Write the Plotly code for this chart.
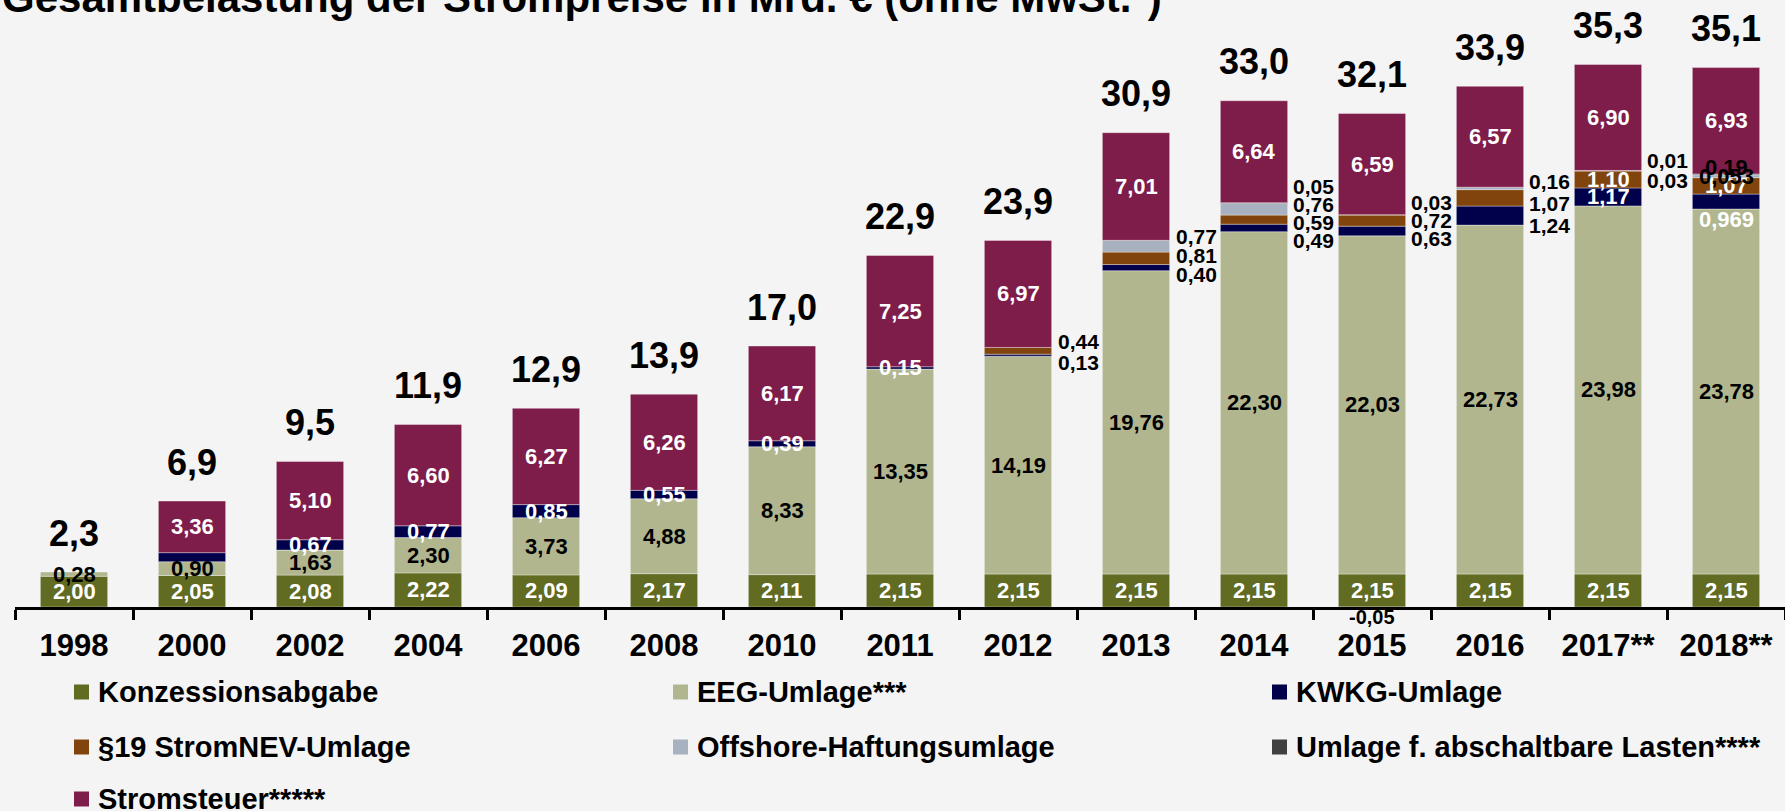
import plotly.graph_objects as go

# ---------------- data ----------------
years = ["1998", "2000", "2002", "2004", "2006", "2008", "2010", "2011", "2012",
         "2013", "2014", "2015", "2016", "2017**", "2018**"]
konz = [2.00, 2.05, 2.08, 2.22, 2.09, 2.17, 2.11, 2.15, 2.15, 2.15, 2.15, 2.15, 2.15, 2.15, 2.15]
eeg = [0.28, 0.90, 1.63, 2.30, 3.73, 4.88, 8.33, 13.35, 14.19, 19.76, 22.30, 22.03, 22.73, 23.98, 23.78]
kwkg = [None, 0.59, 0.67, 0.77, 0.85, 0.55, 0.39, 0.15, 0.13, 0.40, 0.49, 0.63, 1.24, 1.17, 0.969]
p19 = [None, None, None, None, None, None, None, None, 0.44, 0.81, 0.59, 0.72, 1.07, 1.10, 1.07]
offshore = [None, None, None, None, None, None, None, None, None, 0.77, 0.76, -0.05, 0.16, 0.03, 0.19]
abschalt = [None, None, None, None, None, None, None, None, None, None, 0.05, 0.03, None, 0.01, 0.053]
steuer = [None, 3.36, 5.10, 6.60, 6.27, 6.26, 6.17, 7.25, 6.97, 7.01, 6.64, 6.59, 6.57, 6.90, 6.93]
totals = ["2,3", "6,9", "9,5", "11,9", "12,9", "13,9", "17,0", "22,9", "23,9",
          "30,9", "33,0", "32,1", "33,9", "35,3", "35,1"]

names = {
    "konz": "Konzessionsabgabe",
    "eeg": "EEG-Umlage***",
    "kwkg": "KWKG-Umlage",
    "p19": "§19 StromNEV-Umlage",
    "off": "Offshore-Haftungsumlage",
    "abs": "Umlage f. abschaltbare Lasten****",
    "steuer": "Stromsteuer*****",
}
values = {"konz": konz, "eeg": eeg, "kwkg": kwkg, "p19": p19, "off": offshore,
          "abs": abschalt, "steuer": steuer}
colors = {"konz": "#626B22", "eeg": "#B1B68F", "kwkg": "#00004B", "p19": "#80440C",
          "off": "#A8B1BF", "abs": "#404040", "steuer": "#7E1C4A"}
order = ["konz", "eeg", "kwkg", "p19", "off", "abs", "steuer"]
title = "Gesamtbelastung der Strompreise in Mrd. € (ohne MwSt.*)"

# ---------------- geometry ----------------
W, H = 1785, 811
L, T, B = 15, 0, 204
PW = W - L
PH = H - T - B
PXU = 15.35
YMAX = PH / PXU
BARW = 0.57
FONT = "Arial, 'Liberation Sans', sans-serif"
BG = "#F4F4F4"


def px_x(px):
    return (px - L) / PW


def px_y(py):
    return (T + PH - py) / PH


def fmt(v):
    s = f"{v:.3f}"
    if s.endswith("0"):
        s = f"{v:.2f}"
    return s.replace(".", ",")


n = len(years)
cum = [0.0] * n
bottoms = {}
for k in order:
    b = []
    for i, v in enumerate(values[k]):
        v = v or 0
        if v >= 0:
            b.append(cum[i])
            cum[i] += v
        else:
            b.append(None)
    bottoms[k] = b


def mid(k, i):
    return bottoms[k][i] + values[k][i] / 2


fig = go.Figure()
for k in order:
    fig.add_trace(go.Bar(
        x=years, y=values[k], name=names[k], width=BARW,
        marker=dict(color=colors[k], line=dict(width=1, color="rgba(255,255,255,0.35)")),
        hoverinfo="skip", showlegend=False,
    ))

ann = []


def lab(i, y, text, color, size=22, xanchor="center", xshift=0, yshift=0):
    ann.append(dict(x=i, y=y, xref="x", yref="y", text=text, showarrow=False,
                    font=dict(family=FONT, size=size, color=color, weight="bold"),
                    xanchor=xanchor, yanchor="middle", xshift=xshift, yshift=yshift))


inside = [
    ("konz", range(15), "white", 0),
    ("eeg", range(15), "black", 0),
    ("kwkg", [2, 3, 4, 5, 6, 7, 13], "white", 0),
    ("kwkg", [14], "white", -18),
    ("p19", [13, 14], "white", 0),
    ("off", [14], "black", 9),
    ("abs", [14], "black", -2),
    ("steuer", range(1, 15), "white", 0),
]
for k, idxs, col, ys in inside:
    for i in idxs:
        v = values[k][i]
        if v is None:
            continue
        lab(i, mid(k, i), fmt(v), col, yshift=ys)

# labels written beside the bars for the thin segments
outside = [
    (8, ["p19", "kwkg"], 8, "right", 21, 0),
    (9, ["off", "p19", "kwkg"], 9, "right", 19, 0),
    (10, ["abs", "off", "p19", "kwkg"], 11, "left", 18, 4),
    (11, ["abs", "p19", "kwkg"], 12, "left", 18, 5),
    (12, ["off", "p19", "kwkg"], 13, "left", 22, 3),
    (13, ["abs", "off"], 14, "left", 20, 0),
]
half_px = BARW * PW / n / 2
for i, keys, at, side, sp, off in outside:
    lo = min(bottoms[k][i] for k in keys)
    hi = max(bottoms[k][i] + values[k][i] for k in keys)
    c = (lo + hi) / 2
    m = len(keys)
    for j, k in enumerate(keys):
        ys = ((m - 1) / 2 - j) * sp + off
        if side == "right":
            lab(at, c, fmt(values[k][i]), "black", size=21, xanchor="left",
                xshift=half_px + 4, yshift=ys)
        else:
            lab(at, c, fmt(values[k][i]), "black", size=21, xanchor="right",
                xshift=-half_px - 2, yshift=ys)

# negative values below the axis
for i, v in enumerate(offshore):
    if v is not None and v < 0:
        lab(i, 0, fmt(v), "black", size=20, yshift=-10)

# totals
for i in range(n):
    lab(i, cum[i], totals[i], "black", size=36, yshift=39)

# title (cut at the top edge like the original)
ann.append(dict(x=px_x(0), y=px_y(23), xref="paper", yref="paper", text=title,
                showarrow=False, xanchor="left", yanchor="bottom",
                font=dict(family=FONT, size=42, color="black", weight="bold")))

# manual legend
shapes = []
legend_items = [
    ("konz", 74, 96, 692), ("eeg", 673, 695, 692), ("kwkg", 1272, 1294, 692),
    ("p19", 74, 96, 747), ("off", 673, 695, 747), ("abs", 1272, 1294, 747),
    ("steuer", 74, 96, 799),
]
for k, mx, tx, cy in legend_items:
    shapes.append(dict(type="rect", xref="paper", yref="paper",
                       x0=px_x(mx), x1=px_x(mx + 15), y0=px_y(cy + 7.5), y1=px_y(cy - 7.5),
                       fillcolor=colors[k], line=dict(width=0)))
    ann.append(dict(x=px_x(tx), y=px_y(cy), xref="paper", yref="paper", text=names[k],
                    showarrow=False, xanchor="left", yanchor="middle",
                    font=dict(family=FONT, size=29, color="black", weight="bold")))

fig.update_layout(
    width=W, height=H, autosize=False,
    margin=dict(l=L, r=0, t=T, b=B, pad=0),
    paper_bgcolor=BG, plot_bgcolor=BG,
    barmode="relative",
    annotations=ann, shapes=shapes,
    xaxis=dict(type="category", range=[-0.5, n - 0.5], tickson="boundaries",
               ticks="outside", ticklen=10, tickwidth=2.5, tickcolor="black",
               showline=True, linewidth=3, linecolor="black", showgrid=False,
               tickfont=dict(family=FONT, size=31, color="black", weight="bold"),
               ticklabelstandoff=9, fixedrange=True),
    yaxis=dict(range=[0, YMAX], visible=False, fixedrange=True),
    showlegend=False,
)

fig.write_html("out.html", config={"displayModeBar": False},
               post_script="document.body.style.margin='0px';document.body.style.overflow='hidden';document.body.style.background='#F4F4F4';")
